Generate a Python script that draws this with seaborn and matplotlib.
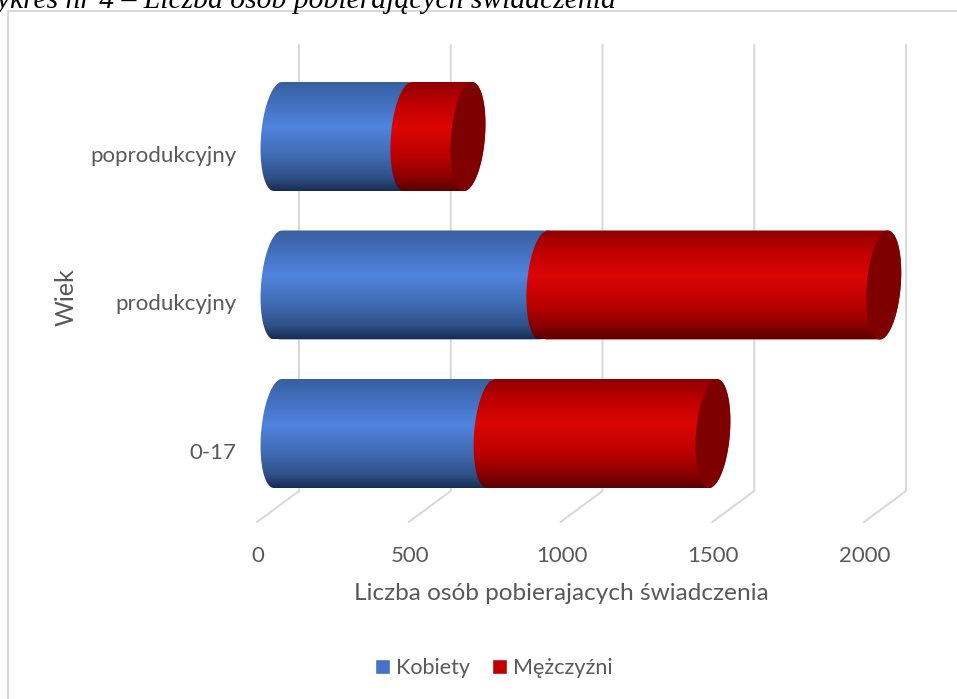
import numpy as np
import pandas as pd
import matplotlib
matplotlib.use('Agg')
import matplotlib.pyplot as plt
import seaborn as sns
from matplotlib.colors import LinearSegmentedColormap
from matplotlib.lines import Line2D
from matplotlib.path import Path
from matplotlib.transforms import ScaledTranslation

# values
age_groups = ['poprodukcyjny', 'produkcyjny', '0-17']
women = [428, 876, 702]
men = [198, 1120, 731]
x_ticks = [0, 500, 1000, 1500, 2000]

TEXT = '#595959'
GRID = '#D9D9D9'

sns.set_theme(style='white')
plt.rcParams['font.family'] = ['Lato', 'DejaVu Sans']

W, H = 957, 699
fig = plt.figure(figsize=(W / 100, H / 100), dpi=100)
# plot box in pixels: x 257-906, y 45-522
ax = fig.add_axes([257 / W, 1 - 522 / H, (906 - 257) / W, (522 - 45) / H])

PX_PER_X = 0.3035   # pixels per person
PX_PER_Y = 148.5    # pixels per category
x_lim = (-21 / PX_PER_X, 628 / PX_PER_X)
y_lim = ((522 - 136.5) / PX_PER_Y, (45 - 136.5) / PX_PER_Y)

df = pd.DataFrame({'wiek': age_groups, 'Kobiety': women, 'Mężczyźni': men})

bar_h = 109 / PX_PER_Y
sns.barplot(data=df, x='Kobiety', y='wiek', color='#4472C4', saturation=1,
            width=bar_h, label='Kobiety', zorder=3, ax=ax)
sns.barplot(data=df, x='Mężczyźni', y='wiek', left=df['Kobiety'], color='#C00000', saturation=1,
            width=bar_h, label='Mężczyźni', zorder=4, ax=ax)
ax.get_legend().remove()


def ellipse_pts(cx, cy, start, stop):
    # slanted ellipse of a lying cylinder, in data units
    a, b, s = 17 / PX_PER_X, bar_h / 2, 4 / PX_PER_X
    t = np.radians(np.linspace(start, stop, 60))
    return np.column_stack([cx + a * np.cos(t) - s * np.sin(t), cy + b * np.sin(t)])


blue_map = LinearSegmentedColormap.from_list('b', [(0, '#37609f'), (0.2, '#4470c0'), (0.42, '#5084de'),
                                                   (0.7, '#3f68ae'), (0.88, '#2f5087'), (1, '#182c50')])
red_map = LinearSegmentedColormap.from_list('r', [(0, '#900000'), (0.2, '#c00000'), (0.42, '#dc0606'),
                                                  (0.7, '#b80000'), (0.88, '#880000'), (1, '#5a0000')])
grad = np.linspace(0, 1, 256).reshape(-1, 1)

for i, bar in enumerate(list(ax.patches)):
    x0, x1 = bar.get_x(), bar.get_x() + bar.get_width()
    y0, y1 = bar.get_y(), bar.get_y() + bar.get_height()
    cy = (y0 + y1) / 2
    outline = np.vstack([ellipse_pts(x0, cy, -90, -270), ellipse_pts(x1, cy, 90, -90)])
    shape = Path(np.vstack([outline, outline[:1]]), closed=True)
    is_men = i >= len(age_groups)
    z = 4 if is_men else 3
    bar.set_clip_path(shape, ax.transData)
    im = ax.imshow(grad, cmap=red_map if is_men else blue_map, aspect='auto', origin='upper',
                   extent=(x0 - 100, x1 + 100, y1, y0), zorder=z + 0.5)
    im.set_clip_path(shape, ax.transData)
    if is_men:
        cap = ellipse_pts(x1, cy, 0, 360)
        ax.fill(cap[:, 0], cap[:, 1], color='#7f0000', lw=0, zorder=5)

ax.set_xlim(x_lim)
ax.set_ylim(y_lim)

# walls of the 3D box: back wall then floor running to the front
off = 21 / PX_PER_X
wall = (491 - 136.5) / PX_PER_Y
for v in x_ticks:
    ax.plot([v + off, v + off, v - off], [y_lim[1], wall, y_lim[0]], color=GRID, lw=1.5, zorder=1,
            solid_joinstyle='miter', clip_on=False)

sns.despine(ax=ax, left=True, bottom=True)
ax.grid(False)
ax.set_xticks(x_ticks)
ax.set_xticklabels([str(v) for v in x_ticks])
ax.tick_params(axis='both', length=0, labelsize=16, labelcolor=TEXT)
ax.tick_params(axis='x', pad=17)
ax.tick_params(axis='y', pad=15)
for lab in ax.get_xticklabels():
    lab.set_transform(lab.get_transform() + ScaledTranslation(-20 / 100, 0, fig.dpi_scale_trans))
for lab in ax.get_yticklabels():
    lab.set_transform(lab.get_transform() + ScaledTranslation(0, -17 / 100, fig.dpi_scale_trans))

ax.set_xlabel('Liczba osób pobierajacych świadczenia', fontsize=17.6, color=TEXT)
ax.xaxis.set_label_coords((561 - 257) / (906 - 257), (522 - 594) / (522 - 45), transform=ax.transAxes)
ax.xaxis.label.set_verticalalignment('center')
ax.set_ylabel('Wiek', fontsize=18, color=TEXT)
ax.yaxis.set_label_coords((66 - 257) / (906 - 257), (522 - 297) / (522 - 45), transform=ax.transAxes)
ax.yaxis.label.set_verticalalignment('center')

handles, labels = ax.get_legend_handles_labels()
fig.legend(handles, labels, ncol=2, frameon=False, loc='center', bbox_to_anchor=(494 / W, 1 - 668 / H),
           fontsize=15.5, labelcolor=TEXT, handlelength=0.7, handleheight=0.7, handletextpad=0.3,
           columnspacing=1.0, borderpad=0)

# border of the chart object and the caption cut off above it
fig.add_artist(Line2D([8 / W, 8 / W, 1], [0, 1 - 11 / H, 1 - 11 / H], color=GRID, lw=1.5))
fig.text(616 / W, 1 - 8 / H, 'Wykres nr 4 – Liczba osób pobierających świadczenia', ha='right', va='baseline',
         fontsize=21.3, color='black', family=['Liberation Serif'], style='italic')

fig.savefig('out.png', dpi=100)
plt.close(fig)
